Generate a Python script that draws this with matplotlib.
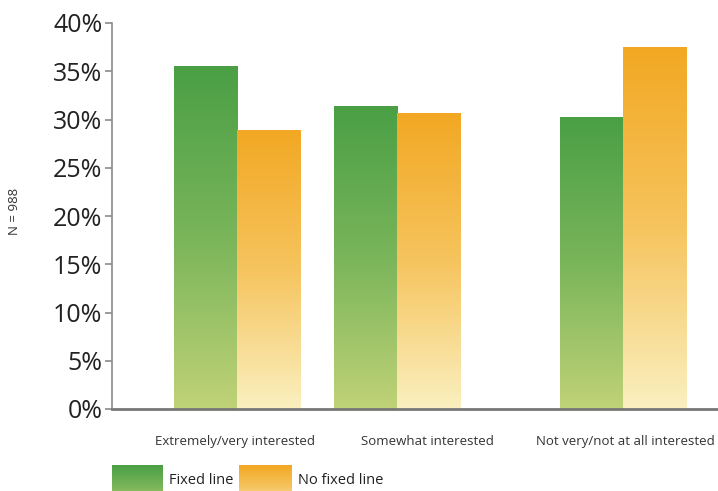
import numpy as np
import matplotlib
matplotlib.use("Agg")
import matplotlib.pyplot as plt
from matplotlib.colors import LinearSegmentedColormap
from matplotlib.ticker import FuncFormatter

plt.rcParams['font.family'] = ['Open Sans', 'DejaVu Sans']

# survey shares (%) per interest level
categories = ["Extremely/very interested", "Somewhat interested", "Not very/not at all interested"]
fixed_line = [35.5, 31.3, 30.2]
no_fixed_line = [28.9, 30.6, 37.5]
series_names = ["Fixed line", "No fixed line"]
sample_note = "N = 988"

# group layout (in bar-width units)
group_centers = np.array([0.0, 2.54, 6.13])
label_centers = np.array([-0.03, 3.02, 6.16])
bar_w = 1.0

green_map = LinearSegmentedColormap.from_list("green", ["#c0d277", "#7ab55a", "#4a9f45"])
orange_map = LinearSegmentedColormap.from_list("orange", ["#faf0c0", "#f6c45e", "#f2a823"])
gradient = np.linspace(0, 1, 256).reshape(-1, 1)
# legend swatches only show the darker upper part of the ramp
swatch_gradient = np.linspace(0.4, 1, 256).reshape(-1, 1)

W, H = 718, 491
fig = plt.figure(figsize=(W / 100, H / 100), dpi=100)
ax = fig.add_axes([112 / W, (H - 409) / H, (718 - 112) / W, (409 - 23) / H])


def gradient_bar(axis, x0, x1, height, cmap):
    # bottom of the image = light end, top = dark end
    axis.imshow(gradient, cmap=cmap, origin="lower", aspect="auto",
                extent=[x0, x1, 0, height], interpolation="bilinear", zorder=2)


for c, v in zip(group_centers, fixed_line):
    gradient_bar(ax, c - bar_w, c, v, green_map)
for c, v in zip(group_centers, no_fixed_line):
    gradient_bar(ax, c, c + bar_w, v, orange_map)

ax.set_xlim(-1.98, 7.63)
ax.set_ylim(0, 40)
ax.set_yticks(np.arange(0, 41, 5))
ax.yaxis.set_major_formatter(FuncFormatter(lambda v, _: f"{v:.0f}%"))
ax.tick_params(axis='y', direction='out', length=5, width=1.2, color="#8a8a8a",
               labelsize=18, labelcolor="#222222", pad=2)
ax.set_xticks(label_centers)
ax.set_xticklabels(categories, fontsize=9.5, color="#333333")
ax.tick_params(axis='x', length=0, pad=19)

for side in ("top", "right"):
    ax.spines[side].set_visible(False)
ax.spines["left"].set_color("#8a8a8a")
ax.spines["left"].set_linewidth(1.2)
ax.spines["bottom"].set_color("#777777")
ax.spines["bottom"].set_linewidth(2)

fig.text(14 / W, 1 - 211 / H, sample_note, rotation=90, ha="center", va="center",
         fontsize=9.5, color="#333333")

# legend swatches with the same gradients
legend_items = [(112, 163, green_map), (239, 292, orange_map)]
for (x0, x1, cmap), name in zip(legend_items, series_names):
    lax = fig.add_axes([x0 / W, 0, (x1 - x0) / W, (491 - 465) / H])
    lax.imshow(swatch_gradient, cmap=cmap, origin="lower", aspect="auto",
               interpolation="bilinear", vmin=0, vmax=1)
    lax.axis("off")
    fig.text((x1 + 6) / W, 1 - 481 / H, name, ha="left", va="center",
             fontsize=10.5, color="#222222")

fig.savefig("out.png", dpi=100)
